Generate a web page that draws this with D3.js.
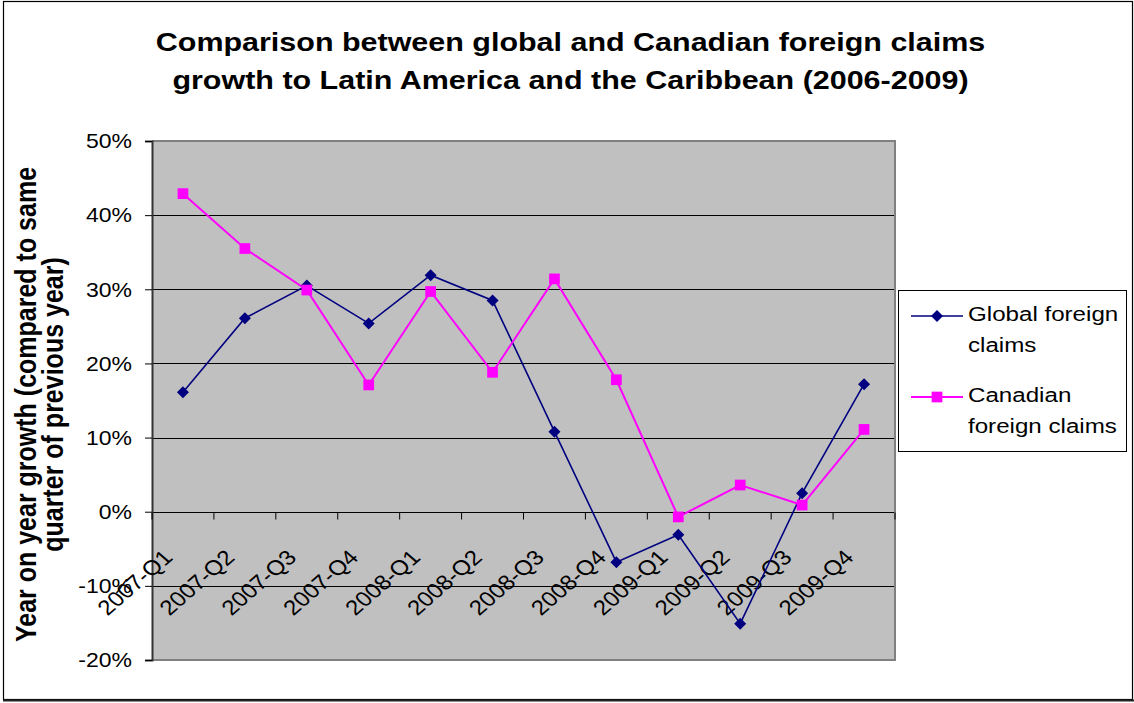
<!DOCTYPE html>
<html>
<head>
<meta charset="utf-8">
<script src="https://cdn.jsdelivr.net/npm/d3@7"></script>
<style>
  html, body { margin: 0; padding: 0; background: #fff; }
  svg { display: block; font-family: Arial, "Liberation Sans", sans-serif; }
</style>
</head>
<body>
<svg id="chart" width="1134" height="703"></svg>
<script>
// Quarterly year-on-year growth of foreign claims on Latin America and the Caribbean
const categories = ["2007-Q1", "2007-Q2", "2007-Q3", "2007-Q4",
                    "2008-Q1", "2008-Q2", "2008-Q3", "2008-Q4",
                    "2009-Q1", "2009-Q2", "2009-Q3", "2009-Q4"];
const globalClaims   = [0.161, 0.261, 0.305, 0.254, 0.319, 0.285, 0.108, -0.068, -0.031, -0.151, 0.025, 0.172];
const canadianClaims = [0.429, 0.355, 0.299, 0.171, 0.297, 0.188, 0.314, 0.178, -0.007, 0.036, 0.009, 0.111];
const yTicks = [-0.2, -0.1, 0, 0.1, 0.2, 0.3, 0.4, 0.5];
const seriesNames = [["Global foreign", "claims"], ["Canadian", "foreign claims"]];
const titleLines = ["Comparison between global and Canadian foreign claims",
                    "growth to Latin America and the Caribbean (2006-2009)"];
const yTitleLines = ["Year on year growth (compared to same", "quarter of previous year)"];

const SX = 1.15; // horizontal widening of the lettering
const svg = d3.select("#chart");

// outer frame
svg.append("rect").attr("x", 3.5).attr("y", 1.5).attr("width", 1129).attr("height", 698)
  .attr("fill", "#fff").attr("stroke", "#000").attr("stroke-width", 1.2);
svg.append("line").attr("x1", 3).attr("x2", 1134).attr("y1", 700.5).attr("y2", 700.5)
  .attr("stroke", "#222").attr("stroke-width", 2);

const plot = { left: 152, right: 895, top: 141, bottom: 660 };

const x = d3.scaleBand().domain(categories).range([plot.left, plot.right]);
const cx = c => x(c) + x.bandwidth() / 2;
const y = d3.scaleLinear().domain([-0.2, 0.5]).range([plot.bottom, plot.top]);

// plot area
svg.append("rect").attr("x", plot.left).attr("y", plot.top)
  .attr("width", plot.right - plot.left).attr("height", plot.bottom - plot.top)
  .attr("fill", "#c0c0c0");

// horizontal gridlines
svg.append("g").selectAll("line").data(yTicks.filter(v => v > -0.2 && v < 0.5)).join("line")
  .attr("x1", plot.left).attr("x2", plot.right)
  .attr("y1", d => Math.round(y(d)) + 0.5).attr("y2", d => Math.round(y(d)) + 0.5)
  .attr("stroke", "#000").attr("stroke-width", 1);

// plot border (top, right, bottom grey)
svg.append("path")
  .attr("d", `M${plot.left},${plot.top} H${plot.right} V${plot.bottom} H${plot.left}`)
  .attr("fill", "none").attr("stroke", "#808080").attr("stroke-width", 2);

// y axis
const pct = d3.format(".0%");
const yAxis = svg.append("g").attr("transform", `translate(${plot.left},0)`)
  .call(d3.axisLeft(y).tickValues(yTicks).tickFormat(v => pct(v).replace("\u2212", "-")).tickSize(7));
yAxis.select(".domain").attr("stroke", "#333").attr("stroke-width", 2);
yAxis.selectAll(".tick line").attr("stroke", "#000");
yAxis.selectAll(".tick text")
  .attr("font-size", 20).attr("fill", "#000")
  .attr("font-family", "Arial, 'Liberation Sans', sans-serif")
  .attr("transform", `scale(${SX},1)`)
  .attr("x", -20 / SX).attr("dy", "0.34em");

// category axis along zero
const y0 = Math.round(y(0)) + 0.5;
const bounds = categories.map(c => x(c)).concat([plot.right]);
svg.append("g").selectAll("line").data(bounds).join("line")
  .attr("x1", d => d).attr("x2", d => d).attr("y1", y0).attr("y2", y0 + 7)
  .attr("stroke", "#000").attr("stroke-width", 1);

svg.append("g").selectAll("g").data(categories).join("g")
  .attr("transform", d => `translate(${cx(d) - 9},${y(0) + 47}) scale(${SX},1) rotate(-45)`)
  .append("text").attr("text-anchor", "end").attr("font-size", 21).attr("fill", "#000")
  .text(d => d);

// series
const series = [
  { values: globalClaims, color: "#000080", width: 1.6, rot: 45, size: 72 },
  { values: canadianClaims, color: "#ff00ff", width: 2, rot: 0, size: 115 }
];
const marker = s => d3.symbol().type(d3.symbolSquare).size(s.size);
const line = d3.line().x((d, i) => cx(categories[i])).y(d => y(d));
series.forEach(s => {
  svg.append("path").datum(s.values).attr("d", line)
    .attr("fill", "none").attr("stroke", s.color).attr("stroke-width", s.width);
});
series.forEach(s => {
  svg.append("g").selectAll("path").data(s.values).join("path")
    .attr("transform", (d, i) => `translate(${cx(categories[i])},${y(d)}) rotate(${s.rot})`)
    .attr("d", marker(s))
    .attr("fill", s.color);
});

// title
svg.append("g").selectAll("text").data(titleLines).join("text")
  .attr("transform", (d, i) => `translate(570.5,${51 + i * 37.5}) scale(${SX},1)`)
  .attr("text-anchor", "middle").attr("font-weight", "bold").attr("font-size", 26.5)
  .text(d => d);

// y axis title
const midY = (plot.top + plot.bottom) / 2;
svg.append("g").selectAll("text").data(yTitleLines).join("text")
  .attr("transform", (d, i) => `translate(${36 + i * 26.5},${midY + 4}) scale(${SX},1) rotate(-90)`)
  .attr("text-anchor", "middle").attr("font-weight", "bold").attr("font-size", 25)
  .text(d => d);

// legend
const legend = svg.append("g");
legend.append("rect").attr("x", 898.5).attr("y", 290.5).attr("width", 228).attr("height", 161)
  .attr("fill", "#fff").attr("stroke", "#000").attr("stroke-width", 1);
const legY = [316, 397];
series.forEach((s, k) => {
  const g = legend.append("g");
  g.append("line").attr("x1", 911).attr("x2", 963).attr("y1", legY[k]).attr("y2", legY[k])
    .attr("stroke", s.color).attr("stroke-width", s.width);
  g.append("path").attr("transform", `translate(937,${legY[k]}) rotate(${s.rot})`)
    .attr("d", marker(s))
    .attr("fill", s.color);
  g.selectAll("text").data(seriesNames[k]).join("text")
    .attr("transform", (d, i) => `translate(968,${legY[k] + 5 + i * 31}) scale(${SX},1)`)
    .attr("font-size", 21).attr("fill", "#000")
    .text(d => d);
});
</script>
</body>
</html>
